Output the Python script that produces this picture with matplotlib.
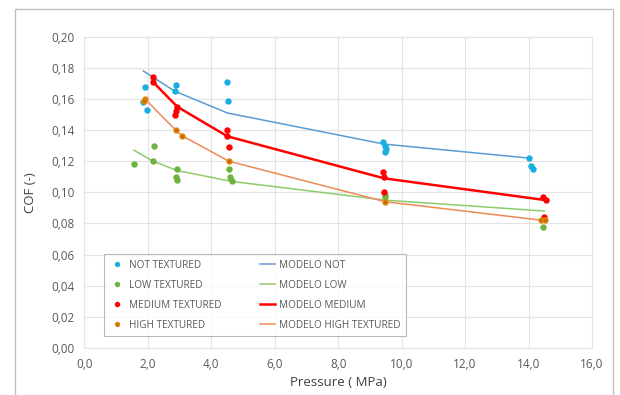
import matplotlib
matplotlib.use("Agg")
import matplotlib.pyplot as plt
from matplotlib.patches import Rectangle
from matplotlib.ticker import FuncFormatter, MultipleLocator

plt.rcParams['font.family'] = ['Open Sans', 'DejaVu Sans']

# ---- data ----
not_p = [1.91, 1.86, 1.97, 2.89, 2.85, 4.49, 4.53, 9.42, 9.48, 9.50, 9.48, 14.02, 14.08, 14.15]
not_cof = [0.168, 0.158, 0.153, 0.169, 0.165, 0.171, 0.159, 0.1325, 0.130, 0.128, 0.1257, 0.122, 0.117, 0.115]

low_p = [1.57, 2.20, 2.17, 2.93, 2.90, 2.93, 4.56, 4.58, 4.65, 9.48, 9.48, 14.47]
low_cof = [0.118, 0.130, 0.120, 0.115, 0.110, 0.108, 0.115, 0.110, 0.107, 0.0985, 0.097, 0.078]

med_p = [2.17, 2.16, 2.93, 2.89, 2.87, 4.51, 4.51, 4.56, 9.42, 9.45, 9.45, 14.47, 14.54, 14.50]
med_cof = [0.174, 0.171, 0.155, 0.152, 0.150, 0.140, 0.136, 0.129, 0.113, 0.110, 0.100, 0.097, 0.095, 0.084]

high_p = [1.91, 1.88, 2.88, 3.07, 4.56, 9.48, 14.39, 14.52]
high_cof = [0.160, 0.159, 0.140, 0.1365, 0.120, 0.094, 0.082, 0.082]

mod_not_p = [1.86, 2.85, 4.51, 9.45, 14.02]
mod_not_cof = [0.178, 0.165, 0.151, 0.131, 0.122]
mod_low_p = [1.57, 2.17, 2.93, 4.65, 9.48, 14.50]
mod_low_cof = [0.127, 0.120, 0.114, 0.107, 0.095, 0.088]
mod_med_p = [2.16, 2.93, 4.51, 9.45, 14.54]
mod_med_cof = [0.171, 0.155, 0.136, 0.109, 0.095]
mod_high_p = [1.91, 2.88, 3.07, 4.56, 9.48, 14.45]
mod_high_cof = [0.160, 0.140, 0.1365, 0.120, 0.094, 0.082]

labels_pts = ["NOT TEXTURED", "LOW TEXTURED", "MEDIUM TEXTURED", "HIGH TEXTURED"]
labels_mod = ["MODELO NOT", "MODELO LOW", "MODELO MEDIUM", "MODELO HIGH TEXTURED"]

# ---- figure ----
fig = plt.figure(figsize=(6.2, 3.95), dpi=100)
fig.patch.set_facecolor('white')
fig.patches.append(Rectangle((15/620, -0.01), (613-15)/620, 1 - 9/395 + 0.01,
                             transform=fig.transFigure, fill=False,
                             edgecolor='#BFBFBF', linewidth=1.0))
ax = fig.add_axes([84.3/620, 1-348/395, (592-84.3)/620, (348-36.7)/395])

c_not_pt, c_not_ln = '#1AAEE0', '#5B9BD5'
c_low_pt, c_low_ln = '#6DB33F', '#8FCB6B'
c_med_pt, c_med_ln = '#FF0000', '#FF0000'
c_high_pt, c_high_ln = '#C66A00', '#EE8A55'

ms = 3.6
h1, = ax.plot(not_p, not_cof, 'o', ms=ms, color=c_not_pt, mec=c_not_pt, zorder=4)
h2, = ax.plot(low_p, low_cof, 'o', ms=ms, color=c_low_pt, mec=c_low_pt, zorder=4)
h3, = ax.plot(med_p, med_cof, 'o', ms=ms, color=c_med_pt, mec=c_med_pt, zorder=4)
h4, = ax.plot(high_p, high_cof, 'o', ms=ms, color=c_high_pt, mec='#E08A10', zorder=4)

l1, = ax.plot(mod_not_p, mod_not_cof, '-', lw=1.1, color=c_not_ln, zorder=3)
l2, = ax.plot(mod_low_p, mod_low_cof, '-', lw=1.1, color=c_low_ln, zorder=3)
l3, = ax.plot(mod_med_p, mod_med_cof, '-', lw=1.8, color=c_med_ln, zorder=3)
l4, = ax.plot(mod_high_p, mod_high_cof, '-', lw=1.1, color=c_high_ln, zorder=3)

ax.set_xlim(0, 16)
ax.set_ylim(0, 0.20)
ax.xaxis.set_major_locator(MultipleLocator(2))
ax.yaxis.set_major_locator(MultipleLocator(0.02))
ax.xaxis.set_major_formatter(FuncFormatter(lambda v, p: f"{v:.1f}".replace('.', ',')))
ax.yaxis.set_major_formatter(FuncFormatter(lambda v, p: f"{v:.2f}".replace('.', ',')))
ax.grid(True, color='#E3E3E3', linewidth=0.8)
ax.set_axisbelow(True)
for s in ax.spines.values():
    s.set_color('#E3E3E3')
    s.set_linewidth(0.8)
ax.tick_params(length=0, labelsize=8.5, labelcolor='#595959', pad=7)
ax.set_xlabel("Pressure ( MPa)", fontsize=9.5, color='#404040', labelpad=4)
ax.set_ylabel("COF (-)", fontsize=9.5, color='#404040', labelpad=10)

leg = ax.legend([h1, h2, h3, h4, l1, l2, l3, l4], labels_pts + labels_mod,
                ncol=2, loc='lower left',
                bbox_to_anchor=(0.039, 0.037, 0.595, 0.26), mode='expand',
                fontsize=7.2, labelspacing=0.9, handlelength=1.5,
                handletextpad=0.4, borderaxespad=0, frameon=True,
                fancybox=False, edgecolor='#A6A6A6', markerscale=0.8,
                borderpad=0.55)
for t in leg.get_texts():
    t.set_color('#595959')
leg.get_frame().set_linewidth(0.8)

fig.savefig("out.png", dpi=100, facecolor='white')
